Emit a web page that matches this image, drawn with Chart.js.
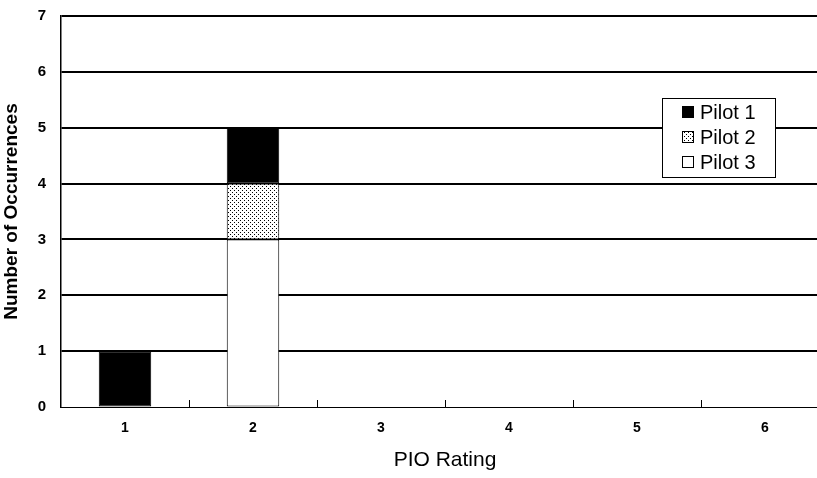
<!DOCTYPE html>
<html>
<head>
<meta charset="utf-8">
<script src="https://cdn.jsdelivr.net/npm/chart.js@4.4.1/dist/chart.umd.min.js"></script>
<style>
  html, body { margin: 0; padding: 0; background: #fff; overflow: hidden; }
  #wrap { width: 845px; height: 478px; }
</style>
</head>
<body>
<div id="wrap"><canvas id="pioChart" width="845" height="478"></canvas></div>
<script>
const ratings = ['1', '2', '3', '4', '5', '6'];
const pilot1 = [1, 1, 0, 0, 0, 0];
const pilot2 = [0, 1, 0, 0, 0, 0];
const pilot3 = [0, 3, 0, 0, 0, 0];
const yTicks = [0, 1, 2, 3, 4, 5, 6, 7];

Chart.defaults.font.family = "'Liberation Sans', Arial, sans-serif";
Chart.defaults.color = '#000';

// stipple fill for Pilot 2
function makeDots() {
  const c = document.createElement('canvas');
  c.width = 4; c.height = 4;
  const g = c.getContext('2d');
  g.fillStyle = '#fff';
  g.fillRect(0, 0, 4, 4);
  g.fillStyle = '#000';
  g.fillRect(0, 0, 1, 1);
  g.fillRect(2, 2, 1, 1);
  return g.createPattern(c, 'repeat');
}
const dots = makeDots();

const borderFor = ctx => (ctx.raw ? 1 : 0);

// small tick marks between categories, pointing up into the plot
const innerTicks = {
  id: 'innerTicks',
  afterDatasetsDraw(chart) {
    const x = chart.scales.x, a = chart.chartArea, c = chart.ctx;
    c.save();
    c.strokeStyle = '#000';
    c.lineWidth = 1;
    for (let i = 1; i < ratings.length; i++) {
      const px = Math.round((x.getPixelForTick(i - 1) + x.getPixelForTick(i)) / 2) + 0.5;
      c.beginPath();
      c.moveTo(px, a.bottom);
      c.lineTo(px, a.bottom - 7);
      c.stroke();
    }
    c.restore();
  }
};

// boxed legend inside the plot
const boxLegend = {
  id: 'boxLegend',
  afterDraw(chart) {
    const c = chart.ctx;
    const items = chart.data.datasets.slice().reverse();
    const left = 662, top = 98, w = 113, rowH = 25;
    const h = rowH * items.length + 4;
    c.save();
    c.fillStyle = '#fff';
    c.fillRect(left, top, w, h);
    c.strokeStyle = '#000';
    c.lineWidth = 1;
    c.strokeRect(left + 0.5, top + 0.5, w, h);
    c.font = "20px 'Liberation Sans', Arial, sans-serif";
    c.textBaseline = 'middle';
    items.forEach((ds, i) => {
      const cy = top + 14 + i * rowH;
      c.fillStyle = ds.backgroundColor;
      c.fillRect(682, cy - 6, 12, 12);
      c.strokeRect(682.5, cy - 5.5, 11, 11);
      c.fillStyle = '#000';
      c.fillText(ds.label, 700, cy + 1);
    });
    c.restore();
  }
};

new Chart(document.getElementById('pioChart'), {
  type: 'bar',
  data: {
    labels: ratings,
    datasets: [
      { label: 'Pilot 3', data: pilot3, backgroundColor: '#fff', borderColor: '#000', borderWidth: borderFor, borderSkipped: false },
      { label: 'Pilot 2', data: pilot2, backgroundColor: dots, borderColor: '#000', borderWidth: borderFor, borderSkipped: false },
      { label: 'Pilot 1', data: pilot1, backgroundColor: '#000', borderColor: '#000', borderWidth: borderFor, borderSkipped: false }
    ]
  },
  options: {
    responsive: false,
    animation: false,
    layout: { padding: { top: 16, right: 16, left: 0, bottom: 0 } },
    datasets: { bar: { barPercentage: 0.41, categoryPercentage: 1 } },
    plugins: { legend: { display: false }, tooltip: { enabled: false } },
    scales: {
      x: {
        stacked: true,
        grid: { drawOnChartArea: false, drawTicks: false },
        border: { color: '#000', width: 1 },
        ticks: { padding: 13, font: { size: 14, weight: 'bold' } },
        title: { display: true, text: 'PIO Rating', font: { size: 21 }, padding: { top: 6, bottom: 5 } },
        afterFit(s) { s.height = 71; }
      },
      y: {
        stacked: true,
        min: 0,
        max: 7,
        afterBuildTicks(s) { s.ticks = yTicks.map(v => ({ value: v })); },
        grid: {
          color: '#000',
          lineWidth: ctx => (ctx.tick && ctx.tick.value === 0 ? 1 : 2),
          drawTicks: false
        },
        border: { color: '#000', width: 1.5 },
        ticks: { padding: 15, font: { size: 15, weight: 'bold' } },
        title: { display: true, text: 'Number of Occurrences', font: { size: 19, weight: 'bold' }, padding: { top: 0, bottom: 0 } },
        afterFit(s) { s.width = 61; s.paddingTop = 0; s.paddingBottom = 0; }
      }
    }
  },
  plugins: [innerTicks, boxLegend]
});
</script>
</body>
</html>
